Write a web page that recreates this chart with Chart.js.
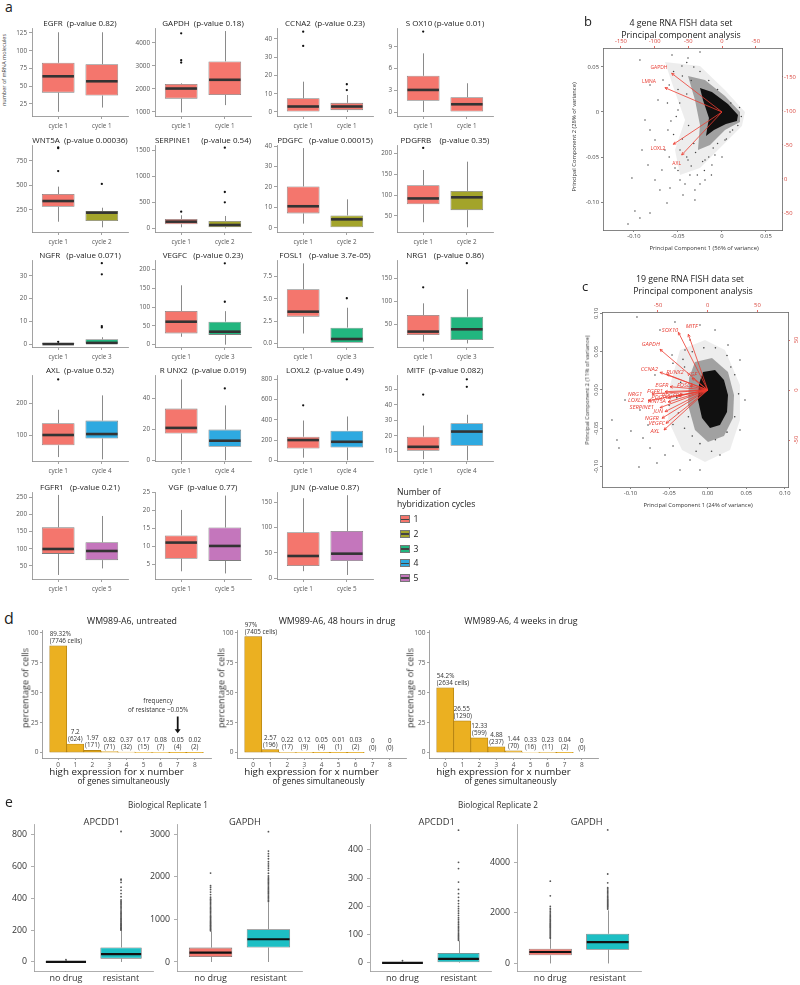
<!DOCTYPE html>
<html><head><meta charset="utf-8">
<script src="https://cdn.jsdelivr.net/npm/chart.js"></script>
<style>
html,body{margin:0;padding:0;background:#fff}
body{position:relative;width:800px;height:985px;overflow:hidden;font-family:'Open Sans',sans-serif;color:#222}
canvas{position:absolute}
.t{position:absolute;white-space:pre;line-height:1}
.sw{position:absolute;width:10px;height:8px;border:0.8px solid #777;box-sizing:border-box}
.sw i{position:absolute;left:0;right:0;top:2.6px;height:1.6px;background:#444}
</style></head><body>
<script>
const FONT = "'Open Sans', sans-serif";
Chart.defaults.font.family = FONT;

// ================= PANEL A DATA =================
const plotTitles = [
 'EGFR  (p-value 0.82)','GAPDH  (p-value 0.18)','CCNA2  (p-value 0.23)','S OX10 (p-value 0.01)',
 'WNT5A  (p-value 0.00036)','SERPINE1     (p-value 0.54)','PDGFC   (p-value 0.00015)','PDGFRB    (p-value 0.35)',
 'NGFR   (p-value 0.071)','VEGFC   (p-value 0.23)','FOSL1   (p-value 3.7e-05)','NRG1   (p-value 0.86)',
 'AXL  (p-value 0.52)','R UNX2  (p-value 0.019)','LOXL2  (p-value 0.49)','MITF  (p-value 0.082)',
 'FGFR1   (p-value 0.21)','VGF  (p-value 0.77)','JUN  (p-value 0.87)'];
const secondCycle = [1,1,1,1,2,2,2,2,3,3,3,3,4,4,4,4,5,5,5];
const whiskerLow  = [[14,20],[980,1300],[0,0],[0,0],[131,74],[19,0],[2,0],[35,23],[0,0],[21,0],[1.1,0],[12,8],[31,24],[0,0],[26,0],[4.8,4],[24,43],[3,2.4],[14,6.5]];
const quart1      = [[41,37],[1580,1740],[0,1],[1.56,0],[283,138],[77,19],[7,0],[78,64],[0,0],[30,26],[3,0],[26.5,15.6],[68,89],[17.4,8.7],[116,126],[10.2,13.5],[85,67],[6.5,5.9],[24.3,34.2]];
const medians     = [[64,57],[2020,2400],[3,3],[3.05,1.07],[341,223],[127,63],[10.5,4.1],[92,94.7],[0,0.5],[61,34.5],[3.56,0.48],[34,39],[100,103],[21,12.7],[200,183],[12.8,22.7],[99.3,93.5],[11,10.06],[44,48.6]];
const quart3      = [[83,81],[2220,3200],[7.5,5],[5,2.04],[412,240],[178,140],[20.2,6],[123.5,110],[0.5,2.1],[89.4,61],[6.08,1.76],[70.4,66.7],[136.7,145],[33.5,19.9],[233,293],[19.4,28.1],[162,118.7],[13,15.2],[90.8,93.4]];
const whiskerHigh = [[126,126],[2250,4520],[16.6,9.3],[8.1,3.97],[487,273],[250,236],[39,13.9],[160,180],[1,3],[157.6,89],[9,4],[96,127],[179,224],[52.5,35.6],[393,433],[26.6,33.6],[256,195],[20.1,24.1],[158,164]];
const outliers = [[[],[]],[[4420,3250,3150],[]],[[44,36.2],[15.2,12]],[[11.1],[]],[[885,878,645],[515]],[[318],[695,498,1544]],[[],[]],[[213],[]],[[1],[7.3,7.9,30.7,35.6]],[[],[114,216]],[[],[5.07]],[[131],[184]],[[274],[]],[[],[46.6]],[[543],[800]],[[46.7],[51.7,56.6]],[[],[]],[[],[]],[[],[]]];
const yMin = [8.1,826,-2.2,-0.55,26.5,-71,-2.1,11.7,-1.3,-6.1,-0.42,0.2,18.7,-0.46,-7,3.6,12.3,0.85,-1.4];
const yMax = [132,4652,46,11.6,910,1596,40.5,219.9,37,224.7,9.38,191,287.7,55.3,843,59.4,264.5,25.1,170.3];
const yTicks = [[25,50,75,100,125],[1000,2000,3000,4000],[0,10,20,30,40],[0,3,6,9],[250,500,750],[0,500,1000,1500],[0,10,20,30,40],[50,100,150,200],[0,10,20,30],[0,50,100,150,200],[0,2.5,5,7.5],[50,100,150],[100,200],[0,20,40],[0,200,400,600,800],[10,20,30,40,50],[50,100,150,200,250],[5,10,15,20,25],[0,50,100,150]];
const cycleColors = ['#F4766D','#A3A42A','#22B67F','#2EA9E0','#C476BC'];
const legendCycles = ['1','2','3','4','5'];

// ================= PANEL B / C DATA =================
const pcaBGenes = ['GAPDH','LMNA','LOXL2','AXL'];
const pcaBArrowX = [-0.0572,-0.0648,-0.0553,-0.0458];
const pcaBArrowY = [0.043,0.027,-0.0359,-0.0478];
const pcaBLabelX = [-0.0716,-0.083,-0.0727,-0.0515];
const pcaBLabelY = [0.0492,0.0333,-0.0411,-0.057];
const pcaBCore = [[-0.025,0.0267],[-0.0114,0.0222],[0.0068,0.0089],[0.0182,-0.0033],[0.017,-0.01],[0.0045,-0.0133],[-0.0091,-0.02],[-0.0182,-0.0267],[-0.0148,-0.0067],[-0.0216,0.0133]];
const pcaBMid = [[-0.0386,0.04],[-0.0193,0.0356],[0.0034,0.0178],[0.0205,0],[0.0205,-0.0111],[0.0034,-0.02],[-0.0136,-0.0367],[-0.0273,-0.0422],[-0.025,-0.0144],[-0.0307,0.0133]];
const pcaBHalo = [[-0.0648,0.0556],[-0.025,0.0511],[0.0034,0.0244],[0.0261,0],[0.0227,-0.0156],[-0.0023,-0.04],[-0.025,-0.0622],[-0.0477,-0.07],[-0.0534,-0.0422],[-0.042,-0.0089],[-0.0534,0.0222]];
const pcaBCells = [[-0.0989,-0.11],[-0.1068,-0.1244],[-0.0932,-0.1178],[-0.0818,-0.1122],[-0.0625,-0.1011],[-0.0705,-0.0867],[-0.0534,-0.0622],[-0.0477,-0.0756],[-0.0364,-0.07],[-0.0648,-0.0422],[-0.0761,-0.0311],[-0.0818,-0.02],[-0.0875,-0.0089],[-0.0727,0.0133],[-0.0818,0.03],[-0.0932,0.0578],[-0.0568,0.0633],[-0.025,0.0667],[-0.0386,0.06],[-0.0193,-0.0756],[-0.0114,-0.0589],[-0.0307,-0.0978],[-0.0477,-0.0422],[-0.0682,-0.0644],[-0.0841,-0.0589],[-0.0614,-0.02],[-0.05,0.0022],[-0.067,0.0356],[-0.0455,0.0511],[-0.008,-0.0478],[0.0034,-0.0311],[0.0091,-0.0222],[-0.0307,-0.0867],[-0.0193,-0.0533],[-0.0386,-0.0533],[-0.0591,-0.0844],[-0.0761,-0.0756],[-0.0909,-0.0422],[-0.1023,-0.0733],[-0.0443,-0.0922],
 [-0.045,0.04],[-0.05,0.025],[-0.048,0.01],[-0.052,-0.005],[-0.045,-0.03],[-0.04,-0.05],[-0.035,-0.06],[-0.03,-0.045],[-0.028,-0.07],[-0.02,-0.065],[-0.015,-0.05],[-0.01,-0.04],[-0.005,-0.035],[0.005,-0.03],[0.012,-0.02],[0.018,-0.015],[0.022,-0.005],[0.02,0.005],[0.01,0.01],[-0.005,0.025],[-0.015,0.035],[-0.025,0.045],[-0.032,0.05],[-0.04,0.055],[-0.055,0.045],[-0.06,0.03],[-0.062,0.01],[-0.058,-0.01],[-0.055,-0.025],[-0.06,-0.05],[-0.05,-0.065],[-0.042,-0.08],[-0.025,-0.08],[-0.012,-0.07],[0,-0.05],[-0.035,0.035],[-0.04,0.02],[-0.038,-0.015],[-0.032,-0.035],[-0.022,-0.055]];
const pcaBLeftTicks = [-0.1,-0.05,0,0.05], pcaBLeftLabels = ['-0.10','-0.05','0','0.05'];
const pcaBBottomTicks = [-0.1,-0.05,0,0.05], pcaBBottomLabels = ['-0.10','-0.05','0','0.05'];
const pcaBTopTicks = [-150,-100,-50,0,50], pcaBTopLabels = ['-150','-100','-50','0','-50'];
const pcaBRightTicks = [-150,-100,-50,0,50], pcaBRightLabels = ['-150','-100','-50','0','-50'];

const pcaCGenes = ['SOX10','MITF','GAPDH','CCNA2','RUNX2','VGF','EGFR','FGFR1','NRG1','PDGFRB','PDGFC','LOXL2','WNT5A','SERPINE1','JUN','NGFR','VEGFC','AXL','FOSL1'];
const pcaCArrowX = [-0.038,-0.0251,-0.0618,-0.0618,-0.0531,-0.0203,-0.0488,-0.0553,-0.0722,-0.0385,-0.0514,-0.0773,-0.0514,-0.0618,-0.0553,-0.0592,-0.054,-0.0566,-0.0229];
const pcaCArrowY = [0.0753,0.0727,0.0531,0.0231,0.0205,0.0157,0.0043,-0.0022,-0.0052,-0.0078,-0.0104,-0.014,-0.0157,-0.0231,-0.0283,-0.0369,-0.0435,-0.0522,0.0052];
const pcaCLabelX = [-0.0488,-0.0207,-0.0738,-0.0756,-0.0424,-0.0203,-0.0596,-0.0683,-0.0942,-0.0462,-0.0618,-0.0929,-0.0661,-0.0855,-0.064,-0.0725,-0.0661,-0.0683,-0.0294];
const pcaCLabelY = [0.0783,0.0826,0.0597,0.027,0.0226,0.0209,0.0065,-0.0022,-0.0056,-0.0065,-0.0098,-0.014,-0.0153,-0.0231,-0.0283,-0.0369,-0.0435,-0.0535,0.0065];
const pcaCCore = [[-0.0061,0.0235],[0.0095,0.0261],[0.0211,0.0131],[0.0263,-0.0065],[0.025,-0.0287],[0.0159,-0.0457],[0.003,-0.0496],[-0.0074,-0.0366],[-0.0126,-0.0131],[-0.0113,0.0078]];
const pcaCMid = [[-0.0165,0.0366],[0.0056,0.0418],[0.0263,0.0235],[0.0341,-0.0065],[0.0328,-0.0366],[0.0211,-0.0601],[0.0004,-0.0679],[-0.0165,-0.0522],[-0.0255,-0.0196],[-0.0242,0.0157]];
const pcaCHalo = [[-0.0359,0.0522],[-0.0035,0.0653],[0.0224,0.0522],[0.0418,0.0065],[0.0418,-0.0392],[0.0289,-0.0783],[-0.0035,-0.094],[-0.0333,-0.0783],[-0.0514,-0.0392],[-0.0488,0.0065]];
const pcaCCells = [[-0.0916,0.0953],[-0.0424,0.0888],[-0.1175,-0.0653],[-0.1149,-0.0757],[-0.089,-0.1005],[-0.0657,-0.0953],[-0.0747,-0.0757],[-0.0449,-0.0731],[-0.0994,-0.0535],[-0.0838,-0.0627],[-0.0618,0.0783],[-0.0229,0.0653],[-0.01,0.0849],[0.0095,0.0783],[0.0263,0.0587],[0.0418,0.0392],[0.0483,-0.0131],[0.0418,-0.0522],[0.0159,-0.0849],[-0.0229,-0.0914],[-0.0553,-0.0849],[-0.0773,-0.0457],[-0.0877,-0.0261],[-0.0683,0.0196],[-0.0462,0.0457],[-0.0294,0.0522],[-0.1071,-0.0131],[-0.124,-0.0392],[-0.01,-0.1044],[-0.0359,-0.1044],
 [-0.03,0.03],[-0.035,0.01],[-0.04,-0.01],[-0.038,-0.03],[-0.03,-0.05],[-0.02,-0.06],[-0.01,-0.07],[0.01,-0.065],[0.025,-0.055],[0.035,-0.035],[0.04,-0.005],[0.035,0.02],[0.025,0.045],[0.01,0.055],[-0.005,0.055],[-0.02,0.05],[-0.045,0.035],[-0.05,-0.02],[-0.045,-0.045],[-0.015,-0.08],[0.005,-0.08],[0.03,0.03],[-0.025,-0.035],[-0.032,0.04]];
const pcaCAxisTicks = [-0.1,-0.05,0,0.05,0.1], pcaCAxisLabels = ['-0.10','-0.05','0.00','0.05','0.10'];
const pcaCTopTicks = [-50,0,50], pcaCTopLabels = ['-50','0','50'];
const pcaCRightTicks = [-50,0,50], pcaCRightLabels = ['-50','0','50'];

// ================= PANEL D DATA =================
const bins = [0,1,2,3,4,5,6,7,8];
const pctUntreated = [89.32,7.2,1.97,0.82,0.37,0.17,0.08,0.05,0.02];
const cellsUntreated = [7746,624,171,71,32,15,7,4,2];
const pct48h = [97,2.57,0.22,0.12,0.05,0.01,0.03,0,0];
const cells48h = [7405,196,17,9,4,1,2,0,0];
const pct4wk = [54.2,26.55,12.33,4.88,1.44,0.33,0.23,0.04,0];
const cells4wk = [2634,1290,599,237,70,16,11,2,0];
const histTitles = ['WM989-A6, untreated','WM989-A6, 48 hours in drug','WM989-A6, 4 weeks in drug'];
const histYTicks = [0,25,50,75,100];
const resistanceNote = ['frequency','of resistance ~0.05%'];
const noteX = 5.85, noteY = [43.3,35.8], noteArrowX = 7, noteArrowY = [30.2,16.2];

// ================= PANEL E DATA =================
const eTitles = ['APCDD1','GAPDH','APCDD1','GAPDH'];
const eGroups = ['no drug','resistant'];
const eLow  = [[0,0],[0,0],[0,0],[0,0]];
const eQ1   = [[0,21],[118,338],[0,2],[321,542]];
const eMed  = [[1,49],[221,533],[0,14],[453,840]];
const eQ3   = [[4,91],[338,768],[2,35],[580,1173]];
const eHigh = [[10,195],[720,1400],[5,78],[1000,2100]];
const eOutNoDrug = [[14],
 [730,750,770,790,810,830,850,870,890,910,930,950,975,1000,1025,1050,1075,1100,1130,1160,1190,1220,1250,1280,1310,1340,1370,1400,1430,1460,1480,1520,1580,1640,1700,1750,1790,2085],
 [8],
 [1000,1040,1080,1120,1160,1200,1240,1280,1320,1360,1400,1440,1480,1520,1560,1600,1650,1700,1750,1800,1850,1900,1950,2000,2060,2120,2180,2257,2672,3252]];
const eOutResistant = [
 [200,204,208,212,216,221,226,231,236,241,246,252,258,264,270,276,282,289,296,303,310,318,326,334,342,350,358,366,374,382,390,410,430,450,470,500,515,520,820],
 [1420,1450,1480,1510,1540,1570,1600,1630,1660,1690,1720,1750,1780,1810,1840,1870,1900,1930,1960,1990,2020,2080,2150,2200,2250,2300,2350,2420,2480,2540,2600,3055],
 [80,84,88,92,96,100,105,110,115,120,125,130,136,142,148,154,160,168,176,184,192,200,210,220,232,245,260,286,334,356,470],
 [2150,2190,2230,2270,2310,2350,2390,2430,2470,2510,2550,2600,2650,2700,2750,2800,2850,2900,2950,2993,3187,3535,5277]];
const eMin = [-56.7,-211,-29,-298], eMax = [867,3235,492,5510];
const eTicks = [[0,200,400,600,800],[0,1000,2000,3000],[0,100,200,300,400],[0,2000,4000]];
const eColors = ['#F4766D','#1DBFC4'];

// ================= HELPERS =================
function txt(s, x, y, size, o = {}) {
  const d = document.createElement('div');
  d.className = 't'; d.textContent = s;
  d.style.left = x + 'px'; d.style.top = y + 'px'; d.style.fontSize = size + 'px';
  let tf = o.align === 'left' ? 'translate(0,-50%)' : 'translate(-50%,-50%)';
  if (o.rot) tf += ' rotate(-90deg)';
  d.style.transform = tf;
  if (o.color) d.style.color = o.color;
  if (o.weight) d.style.fontWeight = o.weight;
  document.body.appendChild(d);
  return d;
}
function mk(rect, m, config) {
  const L = Math.round(rect.l), T = Math.round(rect.t), R = Math.round(rect.r), B = Math.round(rect.b);
  const c = document.createElement('canvas');
  const W = R - L + m.l + m.r, H = B - T + m.t + m.b;
  c.width = W; c.height = H;
  Object.assign(c.style, {left:(L - m.l) + 'px', top:(T - m.t) + 'px', width:W + 'px', height:H + 'px'});
  document.body.appendChild(c);
  config.options = Object.assign({responsive:false, maintainAspectRatio:false, animation:false, events:[], devicePixelRatio:1}, config.options);
  return new Chart(c, config);
}
const fix = px => s => { if (s.isHorizontal()) s.height = px; else s.width = px; s.paddingLeft = s.paddingRight = s.paddingTop = s.paddingBottom = 0; };
function axis(o) {
  return {
    border:{display:true, color:o.c || '#8a8a8a', width:o.bw || 0.8},
    grid:{display:true, drawOnChartArea:false, drawTicks:true, tickLength:o.tl ?? 3, color:o.gc || o.c || '#8a8a8a', lineWidth:0.8, offset:false},
    ticks:{display:!o.hide, color:o.tc || '#555', font:{family:FONT, size:o.fs || 6.5}, padding:o.pad ?? 2, autoSkip:false, maxRotation:0, minRotation:0, callback:o.cb}
  };
}
function lin(min, max, ticks, extra) {
  return Object.assign({type:'linear', min, max, bounds:'data', beginAtZero:false, offset:false,
    afterBuildTicks: s => { s.ticks = ticks.map(v => ({value:v})); }}, extra);
}
function boxPlugin(low, med, high, st) {
  return {
    id:'boxwhisk',
    beforeDatasetsDraw(chart) {
      const meta = chart.getDatasetMeta(0), y = chart.scales.y, ctx = chart.ctx, d = chart.data.datasets[0].data;
      ctx.save(); ctx.strokeStyle = st.wc; ctx.lineWidth = st.ww;
      meta.data.forEach((el, i) => {
        const q = d[i].y, x = Math.round(el.x) + 0.5;
        ctx.beginPath();
        ctx.moveTo(x, y.getPixelForValue(low[i])); ctx.lineTo(x, y.getPixelForValue(q[0]));
        ctx.moveTo(x, y.getPixelForValue(q[1])); ctx.lineTo(x, y.getPixelForValue(high[i]));
        ctx.stroke();
      });
      ctx.restore();
    },
    afterDatasetsDraw(chart) {
      const meta = chart.getDatasetMeta(0), y = chart.scales.y, ctx = chart.ctx;
      ctx.save(); ctx.strokeStyle = st.mc; ctx.lineWidth = st.mw;
      meta.data.forEach((el, i) => {
        const py = y.getPixelForValue(med[i]);
        ctx.beginPath(); ctx.moveTo(el.x - el.width / 2 + 0.6, py); ctx.lineTo(el.x + el.width / 2 - 0.6, py); ctx.stroke();
      });
      ctx.restore();
    }
  };
}
const noLegend = {legend:{display:false}, tooltip:{enabled:false}, title:{display:false}};

// ================= PANEL A =================
txt('a', 9, 7, 14);
txt('number of mRNA molecules', 5, 70, 5.5, {rot:true, color:'#444'});
const colL = [32,155,277,397], rowT = [28,145,260,375,492], rowB = [116,232,347,461,579];
plotTitles.forEach((title, i) => {
  const row = Math.floor(i / 4), col = i % 4;
  const rect = {l:colL[col], r:colL[col] + 96, t:rowT[row], b:rowB[row]};
  const m = {l:22, r:4, t:6, b:18};
  const c2 = secondCycle[i];
  const xl = ['cycle 1', 'cycle ' + c2];
  const dec = yTicks[i].some(v => !Number.isInteger(v));
  const pts = [];
  outliers[i].forEach((arr, k) => arr.forEach(v => pts.push({x:k + 1, y:v})));
  mk(rect, m, {
    type:'bar',
    data:{datasets:[
      {type:'bar', data:[{x:1, y:[quart1[i][0], quart3[i][0]]}, {x:2, y:[quart1[i][1], quart3[i][1]]}],
       backgroundColor:[cycleColors[0], cycleColors[c2 - 1]], borderColor:'#7d7d7d', borderWidth:0.8, borderSkipped:false,
       barPercentage:0.75, categoryPercentage:1},
      {type:'scatter', data:pts, pointRadius:1.15, pointBackgroundColor:'#111', pointBorderWidth:0}
    ]},
    options:{
      layout:{padding:{top:m.t, right:m.r, left:0, bottom:0}},
      plugins:noLegend,
      scales:{
        x: lin(0.4, 2.6, [1,2], Object.assign({afterFit:fix(m.b)}, axis({fs:6.3, pad:3, tl:3, cb:(v, k) => xl[k]}))),
        y: lin(yMin[i], yMax[i], yTicks[i], Object.assign({afterFit:fix(m.l)}, axis({fs:6.3, pad:2, tl:3, cb:v => dec ? v.toFixed(1) : String(v)})))
      }
    },
    plugins:[boxPlugin(whiskerLow[i], medians[i], whiskerHigh[i], {mc:'#333', mw:2.6, wc:'#7d7d7d', ww:0.9})]
  });
  txt(title, (rect.l + rect.r) / 2, rect.t - 5.5, 8);
});
// legend
txt('Number of', 397, 491.5, 8.6, {align:'left'});
txt('hybridization cycles', 397, 504.3, 8.6, {align:'left'});
legendCycles.forEach((lab, k) => {
  const y = 519.3 + k * 14.6;
  const s = document.createElement('div'); s.className = 'sw';
  s.style.left = '400px'; s.style.top = (y - 4) + 'px'; s.style.background = cycleColors[k];
  s.appendChild(document.createElement('i'));
  document.body.appendChild(s);
  txt(lab, 413.5, y, 8.6, {align:'left'});
});

// ================= PANEL B / C =================
function poly(pts, color, order) {
  const d = pts.concat([pts[0]]).map(p => ({x:p[0], y:p[1]}));
  return {type:'line', data:d, fill:'shape', backgroundColor:color, borderWidth:0, pointRadius:0, tension:0, order};
}
function arrowPlugin(ax, ay, lx, ly, names, font) {
  return {
    id:'arrows',
    afterDatasetsDraw(chart) {
      const x = chart.scales.x, y = chart.scales.y, ctx = chart.ctx;
      const x0 = x.getPixelForValue(0), y0 = y.getPixelForValue(0);
      ctx.save();
      ctx.strokeStyle = '#EE3B30'; ctx.lineWidth = 0.8;
      ax.forEach((v, i) => {
        const px = x.getPixelForValue(v), py = y.getPixelForValue(ay[i]);
        const ang = Math.atan2(py - y0, px - x0);
        ctx.beginPath(); ctx.moveTo(x0, y0); ctx.lineTo(px, py);
        ctx.moveTo(px, py); ctx.lineTo(px - 3 * Math.cos(ang - 0.45), py - 3 * Math.sin(ang - 0.45));
        ctx.moveTo(px, py); ctx.lineTo(px - 3 * Math.cos(ang + 0.45), py - 3 * Math.sin(ang + 0.45));
        ctx.stroke();
      });
      ctx.fillStyle = '#E8392F'; ctx.font = font; ctx.textAlign = 'center'; ctx.textBaseline = 'middle';
      names.forEach((n, i) => ctx.fillText(n, x.getPixelForValue(lx[i]), y.getPixelForValue(ly[i])));
      ctx.restore();
    }
  };
}
function rotTickPlugin(map) {
  return {
    id:'rotTicks',
    afterDraw(chart) {
      const ctx = chart.ctx;
      ctx.save(); ctx.font = '5.8px ' + FONT; ctx.textAlign = 'center'; ctx.textBaseline = 'middle';
      Object.keys(map).forEach(id => {
        const s = chart.scales[id], o = map[id];
        ctx.fillStyle = o.color;
        s.ticks.forEach((t, k) => {
          const py = s.getPixelForValue(t.value);
          const px = o.side === 'left' ? s.right - 6 : s.left + 8;
          ctx.save(); ctx.translate(px, py); ctx.rotate(-Math.PI / 2); ctx.fillText(o.labels[k], 0, 0); ctx.restore();
        });
      });
      ctx.restore();
    }
  };
}
const RED = '#D9453C';
// panel b
txt('b', 588, 21, 13);
txt('4 gene RNA FISH data set', 681, 23.3, 8.8);
txt('Principal component analysis', 681, 34.5, 8.8);
mk({l:603, r:782, t:48, b:230}, {l:22, r:22, t:12, b:12}, {
  type:'scatter',
  data:{datasets:[
    poly(pcaBHalo, 'rgba(0,0,0,0.07)', 5), poly(pcaBMid, 'rgba(0,0,0,0.32)', 4), poly(pcaBCore, 'rgba(0,0,0,0.9)', 3),
    {type:'scatter', data:pcaBCells.map(p => ({x:p[0], y:p[1]})), pointRadius:0.75, pointBackgroundColor:'#444', pointBorderWidth:0, order:1}
  ]},
  options:{
    layout:{padding:0}, plugins:noLegend,
    scales:{
      x: lin(-0.1352, 0.0682, pcaBBottomTicks, Object.assign({position:'bottom', afterFit:fix(12)}, axis({fs:5.8, tl:2, pad:1, c:'#666', tc:'#444', cb:(v, k) => pcaBBottomLabels[k]}))),
      y: lin(-0.1311, 0.0711, pcaBLeftTicks, Object.assign({position:'left', afterFit:fix(22)}, axis({fs:5.8, tl:2, pad:2, c:'#666', tc:'#444', cb:(v, k) => pcaBLeftLabels[k]}))),
      x2: lin(-176.6, 89, pcaBTopTicks, Object.assign({position:'top', axis:'x', afterFit:fix(12)}, axis({fs:5.8, tl:2, pad:1, c:'#666', gc:RED, tc:RED, cb:(v, k) => pcaBTopLabels[k]}))),
      y2: lin(-192.6, 75, pcaBRightTicks, Object.assign({position:'right', axis:'y', reverse:true, afterFit:fix(22)}, axis({fs:5.8, tl:0, pad:2, c:'#666', gc:RED, tc:RED, cb:(v, k) => pcaBRightLabels[k]})))
    }
  },
  plugins:[arrowPlugin(pcaBArrowX, pcaBArrowY, pcaBLabelX, pcaBLabelY, pcaBGenes, '5px ' + FONT)]
});
txt('Principal Component 1 (56% of variance)', 704, 249, 5.8, {color:'#333'});
txt('Principal Component 2 (28% of variance)', 575, 137, 5.8, {rot:true, color:'#333'});

// panel c
txt('c', 585, 286, 13);
txt('19 gene RNA FISH data set', 690, 279, 8.8);
txt('Principal component analysis', 693, 290.5, 8.8);
mk({l:602, r:788, t:312, b:487}, {l:12, r:12, t:12, b:12}, {
  type:'scatter',
  data:{datasets:[
    poly(pcaCHalo, 'rgba(0,0,0,0.07)', 5), poly(pcaCMid, 'rgba(0,0,0,0.32)', 4), poly(pcaCCore, 'rgba(0,0,0,0.9)', 3),
    {type:'scatter', data:pcaCCells.map(p => ({x:p[0], y:p[1]})), pointRadius:0.8, pointBackgroundColor:'#444', pointBorderWidth:0, order:1}
  ]},
  options:{
    layout:{padding:0}, plugins:noLegend,
    scales:{
      x: lin(-0.1369, 0.104, pcaCAxisTicks, Object.assign({position:'bottom', afterFit:fix(12)}, axis({fs:5.8, tl:2, pad:1, c:'#666', tc:'#444', cb:(v, k) => pcaCAxisLabels[k]}))),
      y: lin(-0.1266, 0.1018, pcaCAxisTicks, Object.assign({position:'left', afterFit:fix(12)}, axis({hide:true, tl:2, c:'#666'}))),
      x2: lin(-106.3, 80.8, pcaCTopTicks, Object.assign({position:'top', axis:'x', afterFit:fix(12)}, axis({fs:5.8, tl:2, pad:1, c:'#666', gc:RED, tc:RED, cb:(v, k) => pcaCTopLabels[k]}))),
      y2: lin(-97, 78, pcaCRightTicks, Object.assign({position:'right', axis:'y', afterFit:fix(12)}, axis({hide:true, tl:2, c:'#666', gc:RED})))
    }
  },
  plugins:[arrowPlugin(pcaCArrowX, pcaCArrowY, pcaCLabelX, pcaCLabelY, pcaCGenes, 'italic 5.8px ' + FONT),
           rotTickPlugin({y:{side:'left', labels:pcaCAxisLabels, color:'#444'}, y2:{side:'right', labels:pcaCRightLabels, color:RED}})]
});
txt('Principal Component 1 (24% of variance)', 698, 505.5, 5.8, {color:'#333'});
txt('Principal Component 2 (11% of variance)', 588, 390, 5.8, {rot:true, color:'#333'});

// ================= PANEL D =================
txt('d', 9, 618, 16);
function barLabelPlugin(pcts, cells, note) {
  return {
    id:'barLabels',
    afterDatasetsDraw(chart) {
      const meta = chart.getDatasetMeta(0), ctx = chart.ctx;
      ctx.save(); ctx.fillStyle = '#333'; ctx.font = '6.3px ' + FONT; ctx.textBaseline = 'bottom';
      meta.data.forEach((el, i) => {
        const top = Math.min(el.y, el.base);
        const l1 = i === 0 ? pcts[i] + '%' : String(pcts[i]);
        const l2 = i === 0 ? '(' + cells[i] + ' cells)' : '(' + cells[i] + ')';
        const w = Math.max(ctx.measureText(l1).width, ctx.measureText(l2).width);
        let x;
        if (w > el.width) { ctx.textAlign = 'left'; x = el.x - el.width / 2; } else { ctx.textAlign = 'center'; x = el.x; }
        ctx.fillText(l2, x, top - 1.5);
        ctx.fillText(l1, x, top - 8.5);
      });
      if (note) {
        const xs = chart.scales.x, ys = chart.scales.y;
        ctx.textAlign = 'center'; ctx.textBaseline = 'middle';
        ctx.fillText(resistanceNote[0], xs.getPixelForValue(noteX), ys.getPixelForValue(noteY[0]));
        ctx.fillText(resistanceNote[1], xs.getPixelForValue(noteX), ys.getPixelForValue(noteY[1]));
        const ax = xs.getPixelForValue(noteArrowX), a1 = ys.getPixelForValue(noteArrowY[0]), a2 = ys.getPixelForValue(noteArrowY[1]);
        ctx.strokeStyle = '#111'; ctx.lineWidth = 1.8;
        ctx.beginPath(); ctx.moveTo(ax, a1); ctx.lineTo(ax, a2 - 3); ctx.stroke();
        ctx.fillStyle = '#111';
        ctx.beginPath(); ctx.moveTo(ax - 3, a2 - 4); ctx.lineTo(ax + 3, a2 - 4); ctx.lineTo(ax, a2); ctx.closePath(); ctx.fill();
      }
      ctx.restore();
    }
  };
}
const histSets = [[pctUntreated, cellsUntreated], [pct48h, cells48h], [pct4wk, cells4wk]];
const histL = [42, 237, 429], histTitleX = [132, 337, 521], histYTitleX = [25, 221, 410];
histSets.forEach((hs, h) => {
  const rect = {l:histL[h], r:histL[h] + 169, t:630, b:758};
  const m = {l:20, r:4, t:16, b:12};
  mk(rect, m, {
    type:'bar',
    data:{datasets:[{data:bins.map((b, k) => ({x:b, y:hs[0][k]})), backgroundColor:'#EBB021', borderColor:'#A97A10', borderWidth:0.7, borderSkipped:false, barPercentage:1, categoryPercentage:1}]},
    options:{
      layout:{padding:{top:m.t, right:m.r, left:0, bottom:0}},
      plugins:noLegend,
      scales:{
        x: lin(-0.95, 8.95, bins, Object.assign({afterFit:fix(m.b)}, axis({fs:6.5, tl:2, pad:1, cb:v => String(v)}))),
        y: lin(-4.5, 102.5, histYTicks, Object.assign({afterFit:fix(m.l)}, axis({fs:6.5, tl:2, pad:1.5, cb:v => String(v)})))
      }
    },
    plugins:[barLabelPlugin(hs[0], hs[1], h === 0)]
  });
  txt(histTitles[h], histTitleX[h], 621, 8.8);
  txt('percentage of cells', histYTitleX[h], 688, 9.2, {rot:true, color:'#333'});
  txt('high expression for x number', (rect.l + rect.r) / 2 - 10, 771.5, 9.8, {color:'#222'});
  txt('of genes simultaneously', (rect.l + rect.r) / 2 - 3, 781, 8.2, {color:'#222'});
});

// ================= PANEL E =================
txt('e', 9, 802, 14);
txt('Biological Replicate 1', 168, 804.5, 8.2, {color:'#333'});
txt('Biological Replicate 2', 498, 804.5, 8.2, {color:'#333'});
const eL = [34, 177, 370, 517], eR = [153, 302, 491, 641], eTitleX = [101.7, 245, 436.7, 586.7];
eTitles.forEach((title, i) => {
  const rect = {l:eL[i], r:eR[i], t:824, b:971};
  const m = {l:32, r:4, t:4, b:14};
  const pts = eOutNoDrug[i].map(v => ({x:1, y:v})).concat(eOutResistant[i].map(v => ({x:2, y:v})));
  mk(rect, m, {
    type:'bar',
    data:{datasets:[
      {type:'bar', data:[{x:1, y:[eQ1[i][0], eQ3[i][0]]}, {x:2, y:[eQ1[i][1], eQ3[i][1]]}],
       backgroundColor:eColors, borderColor:'#666', borderWidth:0.8, borderSkipped:false, barPercentage:0.75, categoryPercentage:1},
      {type:'scatter', data:pts, pointRadius:0.9, pointBackgroundColor:'#555', pointBorderWidth:0}
    ]},
    options:{
      layout:{padding:{top:m.t, right:m.r, left:0, bottom:0}},
      plugins:noLegend,
      scales:{
        x: lin(0.42, 2.58, [1,2], Object.assign({afterFit:fix(m.b)}, axis({fs:9, tl:0, pad:2, tc:'#333', c:'#999', cb:(v, k) => eGroups[k]}))),
        y: lin(eMin[i], eMax[i], eTicks[i], Object.assign({afterFit:fix(m.l)}, axis({fs:8.8, tl:3, pad:4, tc:'#333', c:'#999', cb:v => String(v)})))
      }
    },
    plugins:[boxPlugin(eLow[i], eMed[i], eHigh[i], {mc:'#111', mw:2.2, wc:'#888', ww:0.9})]
  });
  txt(title, eTitleX[i], 822, 9.3, {color:'#333'});
});
</script>
</body></html>
